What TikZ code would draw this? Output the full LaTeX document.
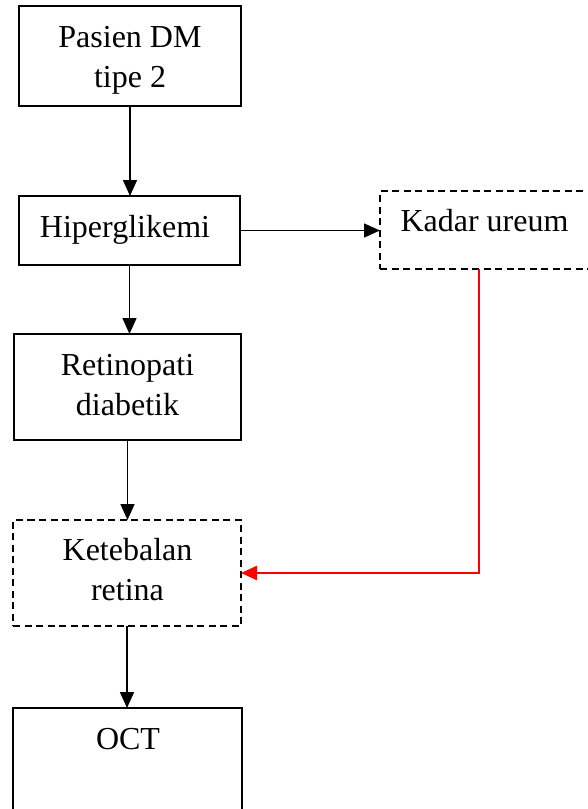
\documentclass[tikz,border=0pt]{standalone}
\usepackage{fontspec}
\setmainfont{Liberation Serif}
\usetikzlibrary{arrows.meta,calc}
\begin{document}
\begin{tikzpicture}[x=1pt,y=-1pt,
  box/.style 2 args={draw=black,line width=1.7pt,minimum width=#1,minimum height=#2,inner sep=0pt,outer sep=0pt,rectangle},
  dashedbox/.style={dash pattern=on 7pt off 4.5pt},
  lbl/.style={anchor=base,inner sep=0pt,font=\fontsize{32}{40}\selectfont},
  arr/.style={line width=1.6pt,-{Triangle[length=16pt 0,width=14pt 0]}},
  redarr/.style={line width=2.4pt,red,-{Triangle[length=16pt 0,width=14pt 0]}}
]
\useasboundingbox (0,0) rectangle (588,809);
\clip (0,0) rectangle (588,809);

\node[box={222pt}{100pt}] (b1) at (130,56) {};
\node[box={221pt}{69pt}] (b2) at (129.5,230.5) {};
\node[box={212pt}{78pt},dashedbox] (b3) at (486,230) {};
\node[box={227pt}{106pt}] (b4) at (127.5,387) {};
\node[box={228pt}{106pt},dashedbox] (b5) at (127,573) {};
\node[box={229pt}{110pt}] (b6) at (127.5,763) {};

\node[lbl] (t1a) at (130,47) {Pasien DM};
\node[lbl] (t1b) at (130,87) {tipe 2};
\node[lbl] (t2) at (125,237) {Hiperglikemi};
\node[lbl] (t3) at (484.5,231) {Kadar ureum};
\node[lbl] (t4a) at (127.5,375) {Retinopati};
\node[lbl] (t4b) at (127.5,415) {diabetik};
\node[lbl] (t5a) at (127.5,560) {Ketebalan};
\node[lbl] (t5b) at (127.5,600) {retina};
\node[lbl] (t6) at (128,749) {OCT};

\draw[arr] (b1.south) -- (b1.south |- b2.north);
\draw[arr] (b2.south) -- (b2.south |- b4.north);
\draw[arr] (b4.south) -- (b4.south |- b5.north);
\draw[arr] (b5.south) -- (b5.south |- b6.north);
\draw[arr] (b2.east) -- (b2.east -| b3.west);
\draw[redarr] ([xshift=-7pt]b3.south) |- (b5.east);
\end{tikzpicture}
\end{document}
